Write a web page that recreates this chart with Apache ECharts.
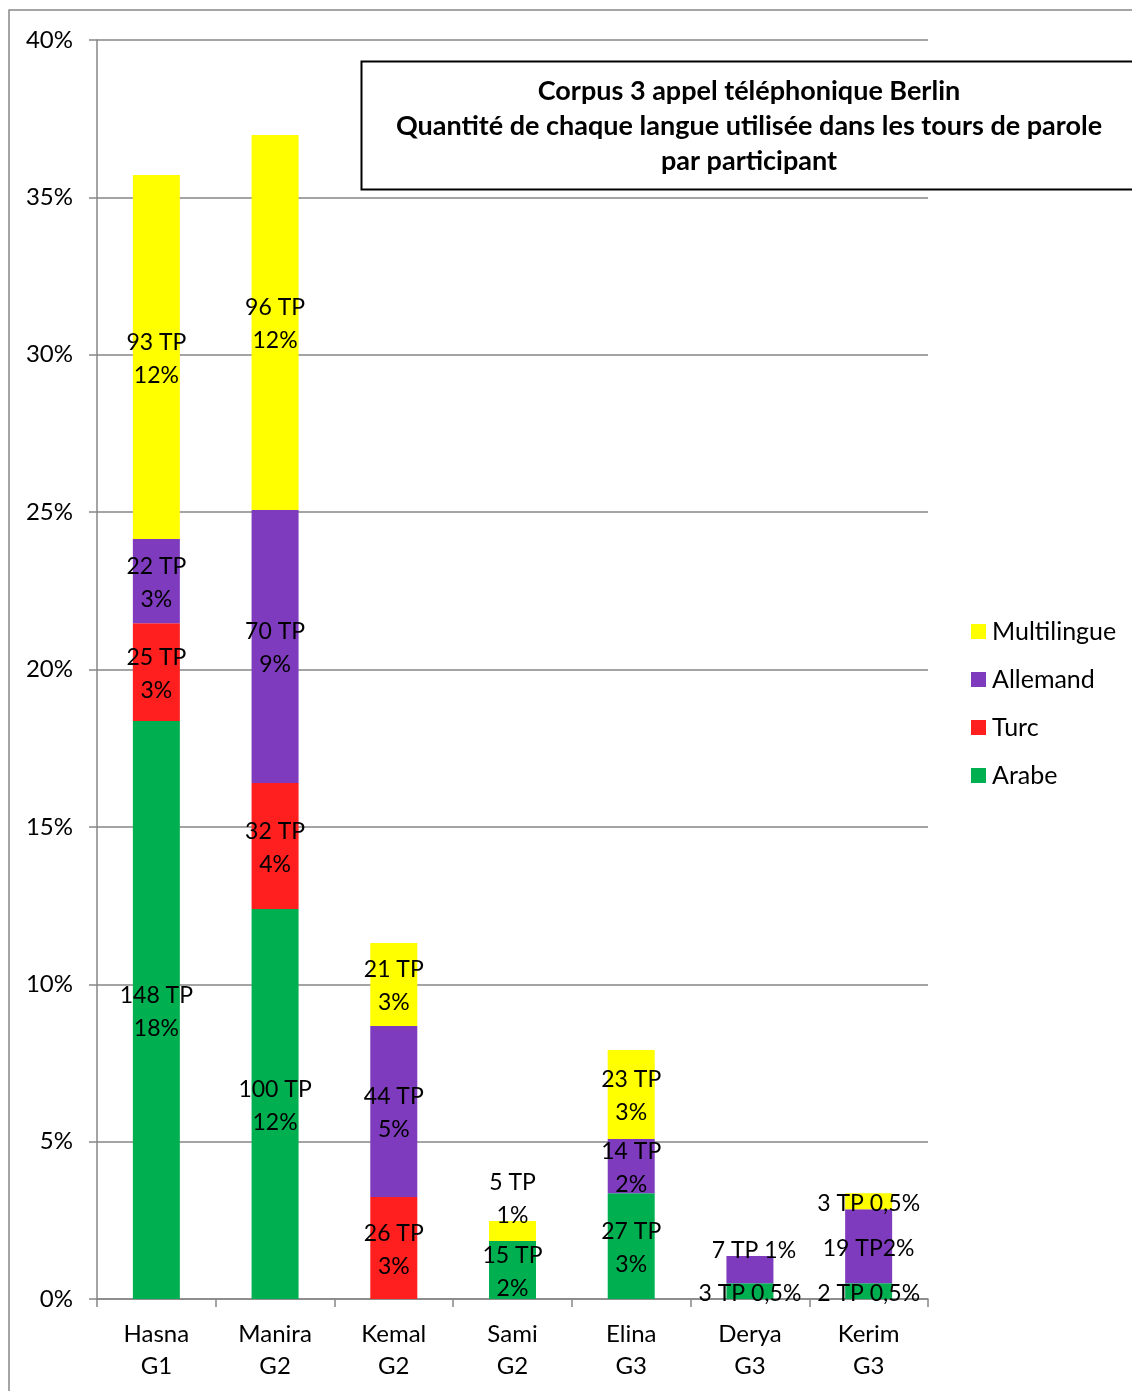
<!DOCTYPE html>
<html><head><meta charset="utf-8">
<script src="https://cdn.jsdelivr.net/npm/echarts@6/dist/echarts.min.js"></script>
<style>html,body{margin:0;padding:0;background:#fff}#c{width:1132px;height:1391px}</style>
</head><body><div id="c"></div>
<script>
const categories = ['Hasna\nG1','Manira\nG2','Kemal\nG2','Sami\nG2','Elina\nG3','Derya\nG3','Kerim\nG3'];
const arabe = [18.36, 12.39, 0, 1.84, 3.36, 0.5, 0.5];
const turc = [3.11, 4.0, 3.24, 0, 0, 0, 0];
const allemand = [2.68, 8.68, 5.43, 0, 1.72, 0.87, 2.35];
const multilingue = [11.56, 11.91, 2.64, 0.64, 2.83, 0, 0.51];
const arabeLabels = ['148 TP\n18%','100 TP\n12%','','15 TP\n2%','27 TP\n3%','3 TP 0,5%','2 TP 0,5%'];
const turcLabels = ['25 TP\n3%','32 TP\n4%','26 TP\n3%','','','',''];
const allemandLabels = ['22 TP\n3%','70 TP\n9%','44 TP\n5%','','14 TP\n2%','7 TP 1%','19 TP2%'];
const multiLabels = ['93 TP\n12%','96 TP\n12%','21 TP\n3%','5 TP\n1%','23 TP\n3%','','3 TP 0,5%'];
const yTicks = [0,5,10,15,20,25,30,35,40];
const titleLines = ['Corpus 3 appel téléphonique Berlin','Quantité de chaque langue utilisée dans les tours de parole','par participant'];

const FONT = 'Lato';
const labelOffsets = {
  'Multilingue': {3: [0,-32]},
  'Allemand': {5: [4,-19]}
};
function mk(name, vals, labels, color){
  return {
    name, type:'bar', stack:'a', barWidth:47, itemStyle:{color},
    data: vals.map((v,i)=>{
      const d = {value:v};
      const off = (labelOffsets[name]||{})[i];
      d.label = {show: labels[i] !== '', formatter: labels[i], offset: off || [0,2]};
      return d;
    }),
    label:{show:true, position:'inside', color:'#000', fontFamily:FONT, fontSize:23, lineHeight:33},
    emphasis:{disabled:true}
  };
}
const chart = echarts.init(document.getElementById('c'));
chart.setOption({
  animation:false,
  textStyle:{fontFamily:FONT},
  grid:{left:97, right:204, top:40, bottom:92},
  title:{
    text: titleLines.join('\n'), left:744, top:69, textAlign:'center',
    textStyle:{fontFamily:FONT, fontWeight:'bold', fontSize:27, lineHeight:35, color:'#000'}
  },
  legend:{
    orient:'vertical', left:966, top:614, itemWidth:15, itemHeight:15, itemGap:23,
    icon:'rect', data:['Multilingue','Allemand','Turc','Arabe'],
    textStyle:{fontFamily:FONT, fontSize:25, lineHeight:25, color:'#000', padding:[0,0,0,1]}
  },
  xAxis:{
    type:'category', data:categories,
    axisLine:{lineStyle:{color:'#868686', width:1.5}},
    axisTick:{show:true, length:8, alignWithLabel:false, lineStyle:{color:'#868686', width:1.5}},
    axisLabel:{fontFamily:FONT, fontSize:24, lineHeight:32, color:'#000', margin:19}
  },
  yAxis:{
    type:'value', min:0, max:40, interval:5,
    axisLine:{show:true, lineStyle:{color:'#868686', width:1.5}},
    axisTick:{show:true, length:8, lineStyle:{color:'#868686', width:1.5}},
    splitLine:{lineStyle:{color:'#868686', width:1.5}},
    axisLabel:{fontFamily:FONT, fontSize:24, color:'#000', margin:24, formatter: v => yTicks.includes(v) ? v+'%' : ''}
  },
  graphic:[
    {type:'rect', shape:{x:9, y:10, width:1200, height:1500}, style:{fill:'none', stroke:'#888', lineWidth:1.5}, z:-1},
    {type:'rect', shape:{x:361.5, y:61.5, width:850, height:128}, style:{fill:'#fff', stroke:'#000', lineWidth:2}, z:5}
  ],
  series:[
    mk('Arabe', arabe, arabeLabels, '#00B050'),
    mk('Turc', turc, turcLabels, '#FF1F1F'),
    mk('Allemand', allemand, allemandLabels, '#7F3BBD'),
    mk('Multilingue', multilingue, multiLabels, '#FFFF00')
  ]
});
</script></body></html>
